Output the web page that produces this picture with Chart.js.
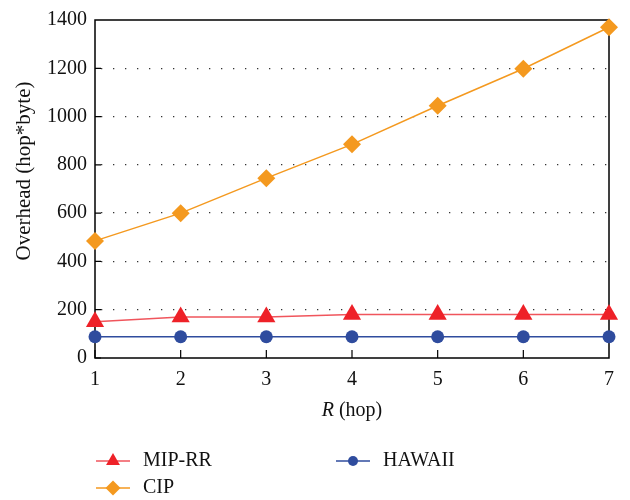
<!DOCTYPE html>
<html><head><meta charset="utf-8">
<script src="https://cdn.jsdelivr.net/npm/chart.js@4/dist/chart.umd.min.js"></script>
<style>html,body{margin:0;padding:0;background:#fff}#wrap{width:630px;height:500px}</style>
</head><body><div id="wrap"><canvas id="c" width="630" height="500"></canvas></div>
<script>
const hops = [1, 2, 3, 4, 5, 6, 7];
const mipRR = [150, 170, 170, 180, 180, 180, 180];
const cip = [485, 600, 745, 885, 1045, 1198, 1370];
const hawaii = [88, 88, 88, 88, 88, 88, 88];
const yTicks = [0, 200, 400, 600, 800, 1000, 1200, 1400];
const yTitle = 'Overhead (hop*byte)';

const FONT = '"Liberation Serif", "DejaVu Serif", serif';
const FS = 20;
const RED = '#ee2128', RED_LINE = '#f0555c', ORANGE = '#f4991f', BLUE = '#2f4c9e';

const toXY = arr => arr.map((v, i) => ({x: hops[i], y: v}));

const framePlugin = {
  id: 'frame',
  beforeDatasetsDraw(chart) {
    const {ctx, chartArea: a, scales} = chart;
    ctx.save();
    ctx.strokeStyle = '#000';
    ctx.lineWidth = 1.5;
    ctx.strokeRect(a.left, a.top, a.right - a.left, a.bottom - a.top);
    ctx.lineWidth = 1.2;
    ctx.beginPath();
    hops.forEach(h => {
      if (h === hops[hops.length - 1]) return;
      const x = scales.x.getPixelForValue(h);
      ctx.moveTo(x, a.bottom); ctx.lineTo(x, a.bottom - 8);
    });
    yTicks.forEach(t => {
      if (t === yTicks[yTicks.length - 1]) return;
      const y = scales.y.getPixelForValue(t);
      ctx.moveTo(a.left, y); ctx.lineTo(a.left + 6, y);
    });
    ctx.stroke();
    ctx.restore();
  },
  afterDraw(chart) {
    const {ctx, chartArea: a} = chart;
    ctx.save();
    ctx.fillStyle = '#111';
    ctx.textBaseline = 'middle';
    // y-axis title
    ctx.save();
    ctx.translate(24, 171);
    ctx.rotate(-Math.PI / 2);
    ctx.textAlign = 'center';
    ctx.font = '21px ' + FONT;
    ctx.fillText(yTitle, 0, 0);
    ctx.restore();
    // x-axis title with italic R
    const p1 = 'R', p2 = ' (hop)';
    ctx.font = 'italic ' + FS + 'px ' + FONT;
    const w1 = ctx.measureText(p1).width;
    ctx.font = FS + 'px ' + FONT;
    const w2 = ctx.measureText(p2).width;
    const cx = (a.left + a.right) / 2;
    const x0 = cx - (w1 + w2) / 2;
    ctx.font = 'italic ' + FS + 'px ' + FONT;
    ctx.fillText(p1, x0, 411);
    ctx.font = FS + 'px ' + FONT;
    ctx.fillText(p2, x0 + w1, 411);

    // legend
    const items = [
      {ds: 0, lx: 96, y: 461},
      {ds: 2, lx: 336, y: 461},
      {ds: 1, lx: 96, y: 488}
    ];
    items.forEach(it => {
      const d = chart.data.datasets[it.ds];
      ctx.strokeStyle = d.borderColor;
      ctx.lineWidth = 1.5;
      ctx.beginPath();
      ctx.moveTo(it.lx, it.y); ctx.lineTo(it.lx + 34, it.y);
      ctx.stroke();
      const style = {pointStyle: d.pointStyle, radius: d.legendRadius, rotation: 0, borderWidth: 0};
      ctx.fillStyle = d.pointBackgroundColor;
      ctx.strokeStyle = d.pointBackgroundColor;
      Chart.helpers.drawPoint(ctx, style, it.lx + 17, it.y);
      ctx.fillStyle = '#111';
      ctx.font = FS + 'px ' + FONT;
      ctx.textBaseline = 'middle';
      ctx.fillText(d.label, it.lx + 47, it.y);
    });
    ctx.restore();
  }
};

new Chart(document.getElementById('c'), {
  type: 'line',
  data: {
    datasets: [
      {label: 'MIP-RR', data: toXY(mipRR), borderColor: RED_LINE, pointBackgroundColor: RED, pointBorderColor: RED,
       pointStyle: 'triangle', pointRadius: 10.5, legendRadius: 8, borderWidth: 1.5, pointBorderWidth: 0},
      {label: 'CIP', data: toXY(cip), borderColor: ORANGE, pointBackgroundColor: ORANGE, pointBorderColor: ORANGE,
       pointStyle: 'rectRot', pointRadius: 9, legendRadius: 7.5, borderWidth: 1.5, pointBorderWidth: 0},
      {label: 'HAWAII', data: toXY(hawaii), borderColor: BLUE, pointBackgroundColor: BLUE, pointBorderColor: BLUE,
       pointStyle: 'circle', pointRadius: 6.5, legendRadius: 5, borderWidth: 1.5, pointBorderWidth: 0}
    ]
  },
  options: {
    responsive: false,
    animation: false,
    clip: false,
    layout: {padding: {left: 0, right: 21, top: 20, bottom: 78}},
    plugins: {legend: {display: false}, tooltip: {enabled: false}},
    scales: {
      x: {
        type: 'linear', min: 1, max: 7,
        afterBuildTicks: s => { s.ticks = hops.map(v => ({value: v})); },
        afterFit: s => { s.height = 64; },
        grid: {display: false, drawTicks: false},
        border: {display: false},
        ticks: {color: '#111', font: {family: FONT, size: FS}, padding: 10, callback: v => String(v)}
      },
      y: {
        min: 0, max: 1400,
        afterBuildTicks: s => { s.ticks = yTicks.map(v => ({value: v})); },
        afterFit: s => { s.width = 95; },
        grid: {
          color: ctx => (ctx.tick && (ctx.tick.value === 0 || ctx.tick.value === 1400)) ? 'rgba(0,0,0,0)' : '#333',
          lineWidth: 1.3, drawTicks: false
        },
        border: {display: false, dash: [1.3, 10.7], dashOffset: -6},
        ticks: {color: '#111', font: {family: FONT, size: FS}, padding: 8, callback: v => String(v)},
        title: {display: false}
      }
    }
  },
  plugins: [framePlugin]
});
</script>
</body></html>
